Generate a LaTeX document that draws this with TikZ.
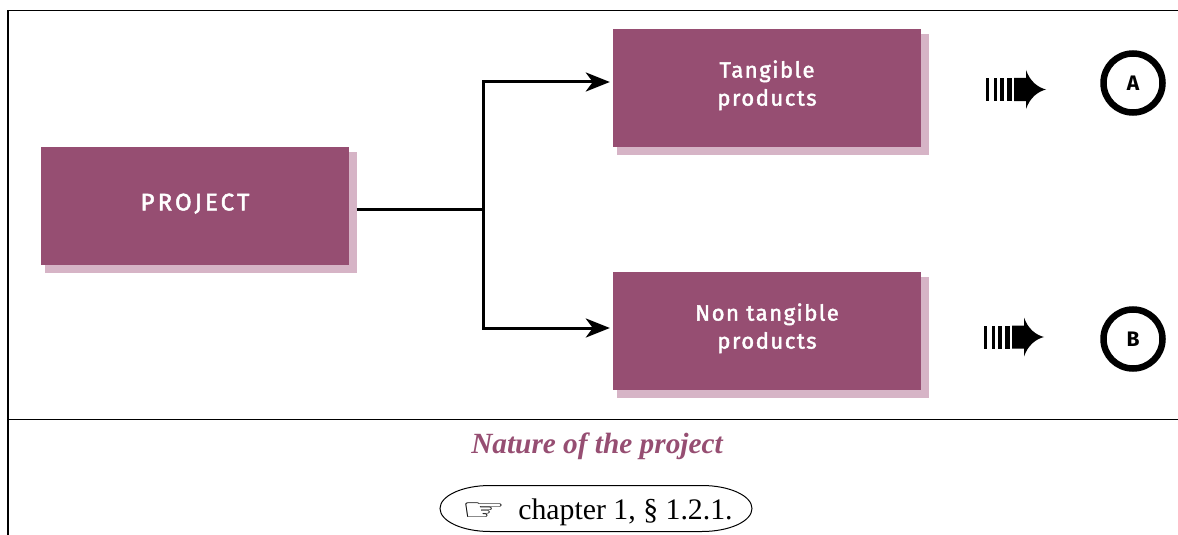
\documentclass[tikz,border=0pt]{standalone}
\usepackage{graphicx}
\usepackage{fontspec}
\setmainfont{Liberation Serif}
\newfontfamily\boxfont[LetterSpace=7,FakeBold=2]{Fira Sans}
\newfontfamily\capsfont[LetterSpace=13,FakeBold=2]{Fira Sans}
\newfontfamily\ringfont{Fira Sans}
\newfontfamily\handfont{DejaVu Sans}
\usetikzlibrary{calc,arrows.meta,positioning,backgrounds}
\definecolor{plum}{RGB}{150,78,114}
\definecolor{plumshadow}{RGB}{214,180,198}
\tikzset{
	projbox/.style={fill=plum,text=white,minimum width=308,minimum height=118,align=center,inner sep=0pt,
		font=\boxfont\fontsize{22}{28}\selectfont},
	letterring/.style={circle,draw,line width=6.5,minimum size=59,inner sep=0pt,
		font=\ringfont\bfseries\fontsize{21}{24}\selectfont},
	link/.style={line width=3,-{Stealth[length=24,width=19,inset=7]}},
	fastarrow/.pic={
		\fill (0,-11.5) rectangle (2.5,11.5);
		\fill (7.5,-11.5) rectangle (10.5,11.5);
		\fill (14,-11.5) rectangle (18,11.5);
		\fill (20.5,-11.5) rectangle (26,11.5);
		\fill (28,-11.5) -- (40,-11.5) -- (40,-19.5) .. controls (44,-8) and (52,-2) .. (60,0)
			.. controls (52,2) and (44,8) .. (40,19.5) -- (40,11.5) -- (28,11.5) -- cycle;
	}
}
\begin{document}
\begin{tikzpicture}[x=1pt,y=-1pt]
	\useasboundingbox (0,0) rectangle (1178,535);
	%frame
	\draw [line width=1.1] (8,535) -- (8,10.5) -- (1178,10.5);
	\draw [line width=1] (8,419) -- (1178,419);

	%boxes
	\node [projbox] (project) at (195,206) {\capsfont\fontsize{24}{28}\selectfont PROJECT\\[-20pt]};
	\node [projbox] (tangible) at (767,88) {Tangible\\products\\[-18pt]};
	\node [projbox] (nontangible) at (767,331) {Non tangible\\products\\[-18pt]};
	\begin{scope}[on background layer]
		\foreach \boxname in {project,tangible,nontangible}
			\fill [plumshadow] ($(\boxname.south west)+(4.5,8)$) rectangle ($(\boxname.north east)+(7.5,5)$);
	\end{scope}

	%arrows and letters
	\pic at (986,89.5) {fastarrow};
	\pic at (984,337) {fastarrow};
	\node [letterring] (lettera) at (1133,83) {\raisebox{-2pt}{A}};
	\node [letterring] (letterb) at (1133,339) {B};

	%connectors
	\coordinate (fork) at (483,209);
	\draw [line width=3] ([xshift=7.5]project.east |- fork) -- (fork);
	\draw [link] (fork) |- ([xshift=-3]tangible.west |- 0,82);
	\draw [link] (fork) |- ([xshift=-3]nontangible.west |- 0,328);

	%caption
	\node (caption) at (597,446) {\fontsize{29.3}{32}\selectfont\bfseries\itshape\color{plum}Nature of the project};
	\node (chapter) at (625.5,512) {\fontsize{29.8}{32}\selectfont chapter 1, \S\ 1.2.1.};
	\node [left=8pt of chapter.west,anchor=east,inner sep=0pt] (hand) {\scalebox{1}[0.62]{\handfont\fontsize{50}{50}\selectfont\char"261E}};
	\draw [line width=1] (490,485.5) -- (702,485.5) arc[start angle=-90,end angle=90,x radius=50,y radius=23]
		-- (490,531.5) arc[start angle=90,end angle=270,x radius=50,y radius=23] -- cycle;
\end{tikzpicture}
\end{document}
